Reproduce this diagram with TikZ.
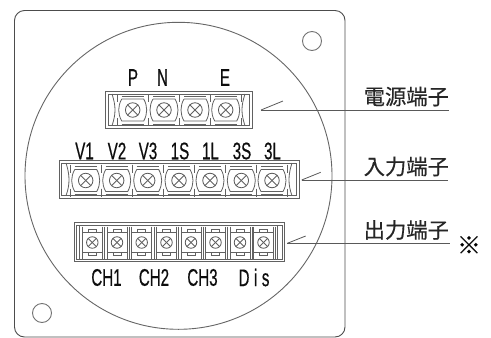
\documentclass[tikz,border=0pt]{standalone}
\usepackage{fontspec}
\newfontfamily\jpfont[FakeBold=0.4]{Noto Sans CJK JP}
\newfontfamily\narrowfont[FakeStretch=0.63,FakeBold=0.5]{Liberation Sans}
\tikzstyle{outline}=[draw=black!70,line width=0.9pt]
\tikzstyle{part}=[draw=black!62,line width=0.8pt]
\tikzstyle{screw}=[draw=black!65,line width=0.8pt,circle,minimum size=14.5pt,inner sep=0pt]
\tikzstyle{smallscrew}=[draw=black!65,line width=0.8pt,circle,minimum size=11.5pt,inner sep=0pt]
\tikzstyle{pinlabel}=[font=\narrowfont\fontsize{24}{24}\selectfont,text=black!95,inner sep=0pt]
\tikzstyle{termname}=[font=\jpfont\fontsize{21.3}{22}\selectfont,text=black!85,inner sep=0pt]
\tikzstyle{leader}=[draw=black!65,line width=0.8pt]
% one screw position of the upper two strips
\newcommand{\bigcell}[3]{
    \node (#1)[screw] at (#2,#3) {};
    \draw[part] (#1.north west) -- (#1.south east);
    \draw[part] (#1.north east) -- (#1.south west);
    \draw[part] (#2-11,#3-11) -- (#2+11,#3-11) .. controls (#2+15,#3-4) and (#2+15,#3+4) .. (#2+11,#3+11)
        -- (#2-11,#3+11) .. controls (#2-15,#3+4) and (#2-15,#3-4) .. (#2-11,#3-11);
    \draw[part] (#2-11,#3-14) -- (#2+11,#3-14);
    \draw[part] (#2-11,#3+14) -- (#2+11,#3+14);
    \draw[part] (#2-15.5,#3-16) -- (#2-15.5,#3-8);
    \draw[part] (#2+15.5,#3-16) -- (#2+15.5,#3-8);
    \draw[part] (#2-15.5,#3+8) -- (#2-15.5,#3+16);
    \draw[part] (#2+15.5,#3+8) -- (#2+15.5,#3+16);
}
% one screw position of the lower strip
\newcommand{\smallcell}[3]{
    \node (#1)[smallscrew] at (#2,#3) {};
    \draw[part] (#1.north west) -- (#1.south east);
    \draw[part] (#1.north east) -- (#1.south west);
    \draw[part] (#2-4,#3-13) rectangle (#2+4,#3-10);
    \draw[part] (#2-4,#3+10) rectangle (#2+4,#3+13);
    \draw[part] (#2-10,#3-10) -- (#2+10,#3-10);
    \draw[part] (#2-10,#3+10) -- (#2+10,#3+10);
    \draw[part] (#2-10,#3-16) -- (#2-10,#3+16);
    \draw[part] (#2+10,#3-16) -- (#2+10,#3+16);
    \draw[part] (#2+12.2,#3-16) -- (#2+12.2,#3+16);
}
\begin{document}
\begin{tikzpicture}[x=1pt,y=-1pt]
    \useasboundingbox (0,0) rectangle (491,338);

    \draw[outline,rounded corners=10pt] (14.5,10.5) rectangle (345,337);
    \node (plate)[draw=black!60,line width=0.9pt,circle,minimum size=307pt,inner sep=0pt] at (178.5,175.8) {};
    \node (holea)[draw=black!55,line width=0.9pt,circle,minimum size=19pt,inner sep=0pt] at (312,41) {};
    \node (holeb)[draw=black!55,line width=0.9pt,circle,minimum size=19pt,inner sep=0pt] at (42,313) {};

    % power strip
    \draw[part] (105.7,91.7) rectangle (252,128);
    \draw[part] (108,94) rectangle (249.7,125.7);
    \bigcell{pa}{132.7}{110}
    \bigcell{pb}{164}{110}
    \bigcell{pc}{195}{110}
    \bigcell{pd}{225.7}{110}
    \draw[part] (112,94) .. controls (116,106) and (116,114) .. (112,125.7);
    \draw[part] (245,94) .. controls (241,106) and (241,114) .. (245,125.7);

    \node (p)[pinlabel] at (133,77.5) {P};
    \node (n)[pinlabel] at (162.5,77.5) {N};
    \node (e)[pinlabel] at (225,77.5) {E};

    % input strip
    \draw[part] (59.5,160.7) rectangle (299,198);
    \draw[part] (61.8,163) rectangle (296.7,195.7);
    \bigcell{ia}{85.7}{180.5}
    \bigcell{ib}{116.7}{180.5}
    \bigcell{ic}{147.7}{180.5}
    \bigcell{id}{179}{180.5}
    \bigcell{ie}{210}{180.5}
    \bigcell{if}{241.3}{180.5}
    \bigcell{ig}{272}{180.5}
    \draw[part] (66,163) .. controls (70,175) and (70,185) .. (66,195.7);
    \draw[part] (292,163) .. controls (288,175) and (288,185) .. (292,195.7);

    \node (va)[pinlabel] at (84.5,151) {V1};
    \node (vb)[pinlabel] at (117,151) {V2};
    \node (vc)[pinlabel] at (148,151) {V3};
    \node (sa)[pinlabel] at (180,151) {1S};
    \node (la)[pinlabel] at (210.5,151) {1L};
    \node (sb)[pinlabel] at (242,151) {3S};
    \node (lb)[pinlabel] at (272.5,151) {3L};

    % output strip
    \draw[part] (74,222.7) rectangle (284,261.7);
    \draw[part] (76,225) rectangle (282,259.5);
    \smallcell{oa}{92.3}{242.5}
    \smallcell{ob}{117}{242.5}
    \smallcell{oc}{141.7}{242.5}
    \smallcell{od}{166.5}{242.5}
    \smallcell{oe}{191}{242.5}
    \smallcell{of}{215.5}{242.5}
    \smallcell{og}{240}{242.5}
    \smallcell{oh}{263.5}{242.5}
    \draw[part] (79.5,225) -- (79.5,259.5);
    \draw[part] (277,225) -- (277,259.5);

    \node (cha)[pinlabel] at (106.5,277.5) {CH1};
    \node (chb)[pinlabel] at (154,277.5) {CH2};
    \node (chc)[pinlabel] at (202.5,277.5) {CH3};
    \node (dis)[pinlabel] at (254,277.5) {D\hspace{4.5pt}i\hspace{4.5pt}s};

    % names and leaders
    \node (power)[termname,anchor=south west] at (363.5,106.5) {電源端子};
    \node (input)[termname,anchor=south west] at (363.5,176.5) {入力端子};
    \node (output)[termname,anchor=south west] at (363.5,240) {出力端子};
    \node (note)[font=\jpfont\fontsize{24}{24}\selectfont,inner sep=0pt] at (469,245) {※};

    \coordinate (powertip) at (261,110);
    \coordinate (powerend) at (449,110);
    \coordinate (powerslant) at (283,101);
    \coordinate (inputtip) at (301.7,180);
    \coordinate (inputend) at (447.7,180);
    \coordinate (inputslant) at (320.7,172.3);
    \coordinate (outputtip) at (287.3,243.3);
    \coordinate (outputend) at (449.7,243.3);
    \coordinate (outputslant) at (305.7,236);

    \draw[leader] (powertip) -- (powerend);
    \draw[leader] (powertip) -- (powerslant);
    \draw[leader] (inputtip) -- (inputend);
    \draw[leader] (inputtip) -- (inputslant);
    \draw[leader] (outputtip) -- (outputend);
    \draw[leader] (outputtip) -- (outputslant);
\end{tikzpicture}
\end{document}
